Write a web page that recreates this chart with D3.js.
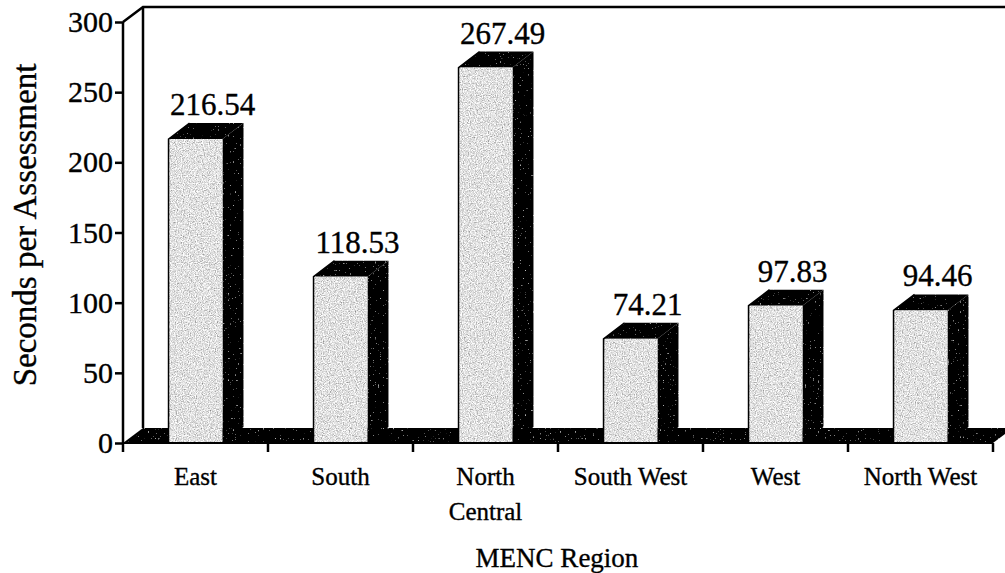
<!DOCTYPE html>
<html>
<head>
<meta charset="utf-8">
<script src="https://cdn.jsdelivr.net/npm/d3@7"></script>
<style>
  html, body { margin: 0; padding: 0; background: #fff; }
  svg { display: block; }
  text { font-family: "Liberation Serif", "Times New Roman", serif; fill: #000; stroke: #000; stroke-width: 0.35px; }
</style>
</head>
<body>
<svg id="chart" width="1005" height="573"></svg>
<script>
// Average seconds per assessment by MENC region
const categories = ["East", "South", "North Central", "South West", "West", "North West"];
const categoryLines = [["East"], ["South"], ["North", "Central"], ["South West"], ["West"], ["North West"]];
const values = [216.54, 118.53, 267.49, 74.21, 97.83, 94.46];
const yTicks = [0, 50, 100, 150, 200, 250, 300];

const svg = d3.select("#chart");
const W = 1005, H = 573;

// plot frame (front floor edge and depth offset of the 3D box)
const x0 = 123, x1 = 993, yBase = 443, yTop = 22;
const depthX = 20, depthY = 15;
const barDX = 21, barDY = 16;

const x = d3.scaleBand().domain(categories).range([x0, x1])
  .paddingInner(0.628).paddingOuter(0.314);
const y = d3.scaleLinear().domain([0, 300]).range([yBase, yTop]);

// textures: grainy grey for bar fronts, speckled black for dark faces
const defs = svg.append("defs");
const grain = defs.append("filter").attr("id", "grain")
  .attr("x", 0).attr("y", 0).attr("width", 1).attr("height", 1);
grain.append("feTurbulence").attr("type", "fractalNoise")
  .attr("baseFrequency", 0.85).attr("numOctaves", 2).attr("seed", 4).attr("result", "n");
grain.append("feColorMatrix").attr("in", "n").attr("type", "matrix")
  .attr("values", "1.3 0 0 0 0.1  1.3 0 0 0 0.1  1.3 0 0 0 0.1  0 0 0 0 1").attr("result", "g");
grain.append("feComposite").attr("in", "g").attr("in2", "SourceGraphic").attr("operator", "in");

const speck = defs.append("filter").attr("id", "speck")
  .attr("x", 0).attr("y", 0).attr("width", 1).attr("height", 1);
speck.append("feTurbulence").attr("type", "fractalNoise")
  .attr("baseFrequency", 0.6).attr("numOctaves", 1).attr("seed", 9).attr("result", "n");
speck.append("feColorMatrix").attr("in", "n").attr("type", "matrix")
  .attr("values", "4 0 0 0 -2.75  4 0 0 0 -2.75  4 0 0 0 -2.75  0 0 0 0 1").attr("result", "g");
speck.append("feComposite").attr("in", "g").attr("in2", "SourceGraphic").attr("operator", "in");

// back wall edges
svg.append("path")
  .attr("d", `M${x0},${yTop} L${x0 + depthX},${yTop - depthY} L${W + 10},${yTop - depthY}`)
  .attr("fill", "none").attr("stroke", "#000").attr("stroke-width", 2.5);
svg.append("line")
  .attr("x1", x0 + depthX).attr("x2", x0 + depthX)
  .attr("y1", yTop - depthY).attr("y2", yBase - depthY)
  .attr("stroke", "#000").attr("stroke-width", 2.5);

// floor
svg.append("path")
  .attr("d", `M${x0},${yBase} L${x0 + depthX},${yBase - depthY} L${x1 + depthX},${yBase - depthY} L${x1},${yBase} Z`)
  .attr("fill", "#050505").attr("filter", "url(#speck)");

// bars
const bars = svg.append("g").selectAll("g").data(categories).join("g");
bars.each(function (c, i) {
  const g = d3.select(this);
  const l = x(c), r = x(c) + x.bandwidth(), t = y(values[i]);
  // side face
  g.append("path")
    .attr("d", `M${r},${t} L${r + barDX},${t - barDY} L${r + barDX},${yBase - barDY} L${r},${yBase} Z`)
    .attr("fill", "#030303").attr("filter", "url(#speck)");
  // top face
  g.append("path")
    .attr("d", `M${l},${t} L${l + barDX},${t - barDY} L${r + barDX},${t - barDY} L${r},${t} Z`)
    .attr("fill", "#141414").attr("filter", "url(#speck)");
  // front face
  g.append("rect")
    .attr("x", l).attr("y", t).attr("width", x.bandwidth()).attr("height", yBase - t)
    .attr("fill", "#bdbdbd").attr("filter", "url(#grain)");
  g.append("path")
    .attr("d", `M${l},${yBase} L${l},${t} L${l + barDX},${t - barDY}`)
    .attr("fill", "none").attr("stroke", "#000").attr("stroke-width", 1.5);
  // value label
  g.append("text")
    .attr("x", l + 44).attr("y", t - barDY - 8)
    .attr("text-anchor", "middle").attr("font-size", 31)
    .text(values[i].toFixed(2));
});

// y axis
const yAxis = svg.append("g").attr("transform", `translate(${x0},0)`)
  .call(d3.axisLeft(y).tickValues(yTicks).tickSize(8).tickPadding(2).tickFormat(d3.format("d")));
yAxis.select(".domain").attr("stroke", "#000").attr("stroke-width", 2.5).attr("d", `M0,${yTop}V${yBase}`);
yAxis.selectAll(".tick line").attr("stroke", "#000").attr("stroke-width", 2.5);
yAxis.selectAll(".tick text")
  .attr("font-family", "Liberation Serif, Times New Roman, serif")
  .attr("font-size", 30).attr("fill", "#000");

// bottom ticks between categories
const tickXs = [x0].concat(categories.map(c => x(c) - x.step() * x.paddingOuter() + x.step()));
svg.append("g").selectAll("line").data(tickXs).join("line")
  .attr("x1", d => d).attr("x2", d => d)
  .attr("y1", yBase).attr("y2", yBase + 9)
  .attr("stroke", "#000").attr("stroke-width", 2.5);
svg.append("line").attr("x1", x0).attr("x2", x1).attr("y1", yBase).attr("y2", yBase)
  .attr("stroke", "#000").attr("stroke-width", 2);

// category labels
const cat = svg.append("g").selectAll("text").data(categories).join("text")
  .attr("text-anchor", "middle").attr("font-size", 25)
  .attr("transform", c => `translate(${x(c) + x.bandwidth() / 2},485)`);
cat.each(function (c, i) {
  d3.select(this).selectAll("tspan").data(categoryLines[i]).join("tspan")
    .attr("x", 0).attr("dy", (d, j) => j === 0 ? 0 : 35).text(d => d);
});

// axis titles
svg.append("text").attr("x", 557).attr("y", 567)
  .attr("text-anchor", "middle").attr("font-size", 27).text("MENC Region");
svg.append("text")
  .attr("transform", "translate(36,225) rotate(-90)")
  .attr("text-anchor", "middle").attr("font-size", 33).text("Seconds per Assessment");
</script>
</body>
</html>
